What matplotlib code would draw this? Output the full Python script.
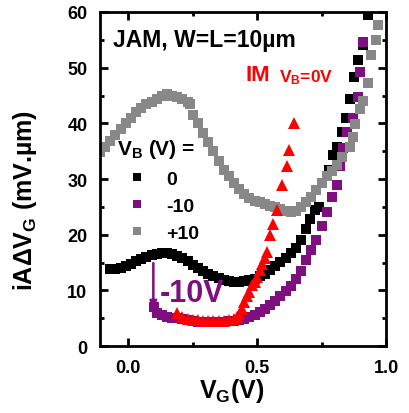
import matplotlib
matplotlib.use("Agg")
import matplotlib.pyplot as plt
from matplotlib.ticker import MultipleLocator, FormatStrFormatter

plt.rcParams['font.family'] = ['Liberation Sans', 'DejaVu Sans']
plt.rcParams['font.weight'] = 'bold'
plt.rcParams['axes.labelweight'] = 'bold'
plt.rcParams['mathtext.fontset'] = 'custom'
plt.rcParams['mathtext.rm'] = 'Liberation Sans:bold'
plt.rcParams['mathtext.it'] = 'Liberation Sans:bold'
plt.rcParams['mathtext.bf'] = 'Liberation Sans:bold'
plt.rcParams['mathtext.default'] = 'regular'

# V_B = 0 V (JAM)
vg_0 = [-0.07, -0.05, -0.03, -0.01, 0.01, 0.03, 0.05, 0.07, 0.09, 0.11, 0.13, 0.15,
        0.17, 0.19, 0.21, 0.23, 0.25, 0.27, 0.29, 0.31, 0.33, 0.35, 0.37, 0.39,
        0.41, 0.43, 0.45, 0.47, 0.49, 0.51, 0.53, 0.55, 0.57, 0.59, 0.61, 0.63,
        0.65, 0.67, 0.69, 0.705, 0.725, 0.74, 0.78, 0.795, 0.81, 0.83, 0.845,
        0.86, 0.875, 0.89, 0.91, 0.93]
y_0 = [13.8, 13.9, 14.1, 14.4, 14.8, 15.2, 15.6, 16.0, 16.3, 16.5, 16.7, 16.7,
       16.5, 16.2, 15.8, 15.2, 14.6, 14.0, 13.5, 13.0, 12.6, 12.2, 11.9, 11.6,
       11.5, 11.5, 11.6, 11.8, 12.1, 12.5, 13.0, 13.7, 14.4, 15.1, 15.8, 16.7,
       17.6, 19.0, 21.0, 22.8, 24.5, 24.9, 31.7, 34.4, 35.7, 38.4, 41.0,
       44.3, 48.4, 51.4, 54.1, 59.5]

# V_B = -10 V
vg_m10 = [0.10, 0.11, 0.13, 0.15, 0.17, 0.19, 0.21, 0.23, 0.25, 0.27, 0.29, 0.31,
          0.33, 0.35, 0.37, 0.39, 0.41, 0.43, 0.45, 0.47, 0.49, 0.51, 0.53, 0.55,
          0.57, 0.59, 0.61, 0.63, 0.65, 0.67, 0.69, 0.71, 0.73, 0.75, 0.77, 0.79,
          0.81, 0.82, 0.835, 0.85, 0.87, 0.89, 0.90, 0.91]
y_m10 = [7.0, 6.0, 5.5, 5.3, 5.1, 5.0, 4.8, 4.6, 4.5, 4.4, 4.4, 4.4,
         4.4, 4.4, 4.4, 4.5, 4.5, 4.6, 4.8, 5.2, 5.6, 6.1, 6.7, 7.4,
         8.1, 8.9, 9.8, 10.8, 12.0, 13.5, 15.5, 17.2, 19.0, 21.5, 24.0, 26.7,
         29.0, 32.3, 35.5, 38.4, 41.0, 44.8, 49.3, 54.7]

# V_B = +10 V
vg_p10 = [-0.11, -0.09, -0.07, -0.05, -0.03, -0.01, 0.01, 0.03, 0.05, 0.07, 0.09,
          0.11, 0.13, 0.15, 0.17, 0.19, 0.21, 0.23, 0.24, 0.25, 0.27, 0.29, 0.31,
          0.33, 0.35, 0.37, 0.39, 0.41, 0.43, 0.45, 0.47, 0.49, 0.51, 0.53, 0.55,
          0.57, 0.59, 0.61, 0.63, 0.65, 0.67, 0.69, 0.71, 0.73, 0.75, 0.77, 0.79,
          0.81, 0.83, 0.86, 0.87, 0.88, 0.90, 0.91, 0.93, 0.94, 0.96, 0.97]
y_p10 = [34.8, 35.8, 36.8, 37.9, 39.0, 40.0, 41.0, 42.0, 42.8, 43.4, 43.9,
         44.4, 44.9, 45.2, 45.0, 44.7, 44.4, 43.8, 43.5, 41.5, 40.0, 38.3, 36.7,
         35.0, 33.3, 31.7, 30.5, 29.3, 28.2, 27.3, 26.6, 26.1, 25.8, 25.5, 25.2,
         24.9, 24.6, 24.3, 24.0, 24.2, 24.9, 25.8, 26.8, 28.0, 29.2, 30.5, 31.5,
         32.5, 34.0, 35.8, 37.6, 39.8, 42.5, 44.1, 47.3, 52.3, 55.0, 57.7]

# IM, V_B = 0 V
vg_im = [0.19, 0.21, 0.23, 0.25, 0.27, 0.29, 0.31, 0.33, 0.35, 0.37, 0.39, 0.41,
         0.42, 0.43, 0.44, 0.45, 0.46, 0.47, 0.48, 0.49, 0.50, 0.51, 0.52, 0.53,
         0.54, 0.55, 0.56, 0.575, 0.596, 0.615, 0.625, 0.641]
y_im = [6.0, 5.2, 4.9, 4.7, 4.6, 4.5, 4.5, 4.5, 4.5, 4.5, 4.6, 4.8,
        5.2, 5.8, 6.6, 7.9, 9.0, 9.7, 11.0, 11.5, 12.4, 13.6, 14.7, 15.8,
        16.8, 20.0, 21.9, 24.5, 29.0, 32.3, 35.3, 40.1]

purple = '#7f0f7f'
gray = '#888888'

fig = plt.figure(figsize=(4.10, 4.14), dpi=100)
ax = fig.add_axes([0.2439, 0.1618, 0.6976, 0.8068])

ax.plot(vg_0, y_0, 's', color='black', ms=6.5, mew=0, label='0')
ax.plot(vg_m10, y_m10, 's', color=purple, ms=6.5, mew=0, label='-10')
ax.plot(vg_p10, y_p10, 's', color=gray, ms=6.5, mew=0, label='+10')
ax.plot(vg_im, y_im, '^', color='red', ms=8, mew=0)

ax.set_xlim(-0.11, 1.0)
ax.set_ylim(0, 60)
ax.xaxis.set_major_locator(MultipleLocator(0.5))
ax.xaxis.set_minor_locator(MultipleLocator(0.25))
ax.yaxis.set_major_locator(MultipleLocator(10))
ax.yaxis.set_minor_locator(MultipleLocator(5))
ax.xaxis.set_major_formatter(FormatStrFormatter('%.1f'))
ax.tick_params(which='both', direction='in', top=True, right=True, width=2,
               labelsize=13)
ax.tick_params(axis='y', pad=9)
ax.tick_params(axis='x', pad=9)
ax.tick_params(which='major', length=6)
ax.tick_params(which='minor', length=3)
for s in ax.spines.values():
    s.set_linewidth(2)

ax.set_xlabel('V$_G$(V)', fontsize=18)
ax.set_ylabel('iAΔV$_G$ (mV.µm)', fontsize=18)
ax.xaxis.set_label_coords(0.46, -0.09)
ax.yaxis.set_label_coords(-0.215, 0.44)

leg = ax.legend(loc='upper left', bbox_to_anchor=(0.06, 0.625), frameon=False,
                title='V$_B$ (V) =', fontsize=14, title_fontsize=15,
                handletextpad=0.5, labelspacing=0.5, markerscale=0.9,
                handlelength=2.0, borderaxespad=0, borderpad=0)
leg._legend_box.align = 'left'

ax.text(0.045, 0.919, 'JAM, W=L=10µm', transform=ax.transAxes, fontsize=16.5,
        va='center', ha='left')
ax.text(0.507, 0.814, 'IM', transform=ax.transAxes, fontsize=16,
        va='center', ha='left', color='red')
ax.text(0.627, 0.805, 'V$_B$=0V', transform=ax.transAxes, fontsize=12.5,
        va='center', ha='left', color='red')
ax.text(0.21, 0.159, '-10V', transform=ax.transAxes, fontsize=22,
        va='center', ha='left', color=purple)
ax.annotate('', xy=(0.097, 6.8), xytext=(0.097, 14.9),
            arrowprops=dict(arrowstyle='-|>', color=purple, lw=1.8,
                            mutation_scale=10, shrinkA=0, shrinkB=0))

fig.savefig('out.png', dpi=100)
